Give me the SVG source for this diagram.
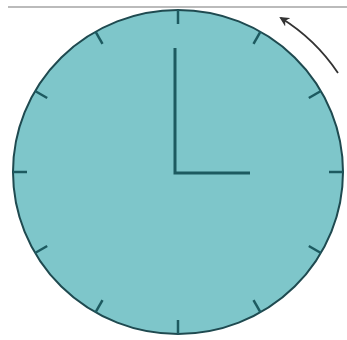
<svg xmlns="http://www.w3.org/2000/svg" width="347" height="340" viewBox="0 0 347 340">
<defs>
<style>
.tick{stroke:#1d5a60;stroke-width:2.5;stroke-linecap:butt}
.hand{stroke:#1d5a60;stroke-width:3;fill:none}
</style>
<marker id="ah" markerWidth="10" markerHeight="10" refX="8" refY="5" orient="auto" markerUnits="userSpaceOnUse">
<path d="M0,0 L10,5 L0,10 L3,5 Z" fill="#333"/>
</marker>
</defs>
<rect width="347" height="340" fill="#ffffff"/>
<line x1="8" y1="7" x2="347" y2="7" stroke="#bbbbbb" stroke-width="2"/>
<g id="clock">
<ellipse cx="178" cy="172" rx="165" ry="162" fill="#7ec6ca" stroke="#1f4a50" stroke-width="2"/>
<g transform="translate(178,172)">
<line class="tick" x1="0" y1="-162" x2="0" y2="-148"/>
<line class="tick" x1="0" y1="162" x2="0" y2="148"/>
<line class="tick" x1="165" y1="0" x2="151" y2="0"/>
<line class="tick" x1="-165" y1="0" x2="-151" y2="0"/>
<line class="tick" x1="82.5" y1="-140.3" x2="75.5" y2="-128.2"/>
<line class="tick" x1="-82.5" y1="-140.3" x2="-75.5" y2="-128.2"/>
<line class="tick" x1="82.5" y1="140.3" x2="75.5" y2="128.2"/>
<line class="tick" x1="-82.5" y1="140.3" x2="-75.5" y2="128.2"/>
<line class="tick" x1="142.9" y1="-81" x2="130.8" y2="-74"/>
<line class="tick" x1="-142.9" y1="-81" x2="-130.8" y2="-74"/>
<line class="tick" x1="142.9" y1="81" x2="130.8" y2="74"/>
<line class="tick" x1="-142.9" y1="81" x2="-130.8" y2="74"/>
</g>
<polyline class="hand" points="175,48 175,173 250,173"/>
</g>
<g id="connectors">
<path d="M338,73 A187,187 0 0 0 281,18" fill="none" stroke="#333" stroke-width="1.8" marker-end="url(#ah)"/>
</g>
</svg>
